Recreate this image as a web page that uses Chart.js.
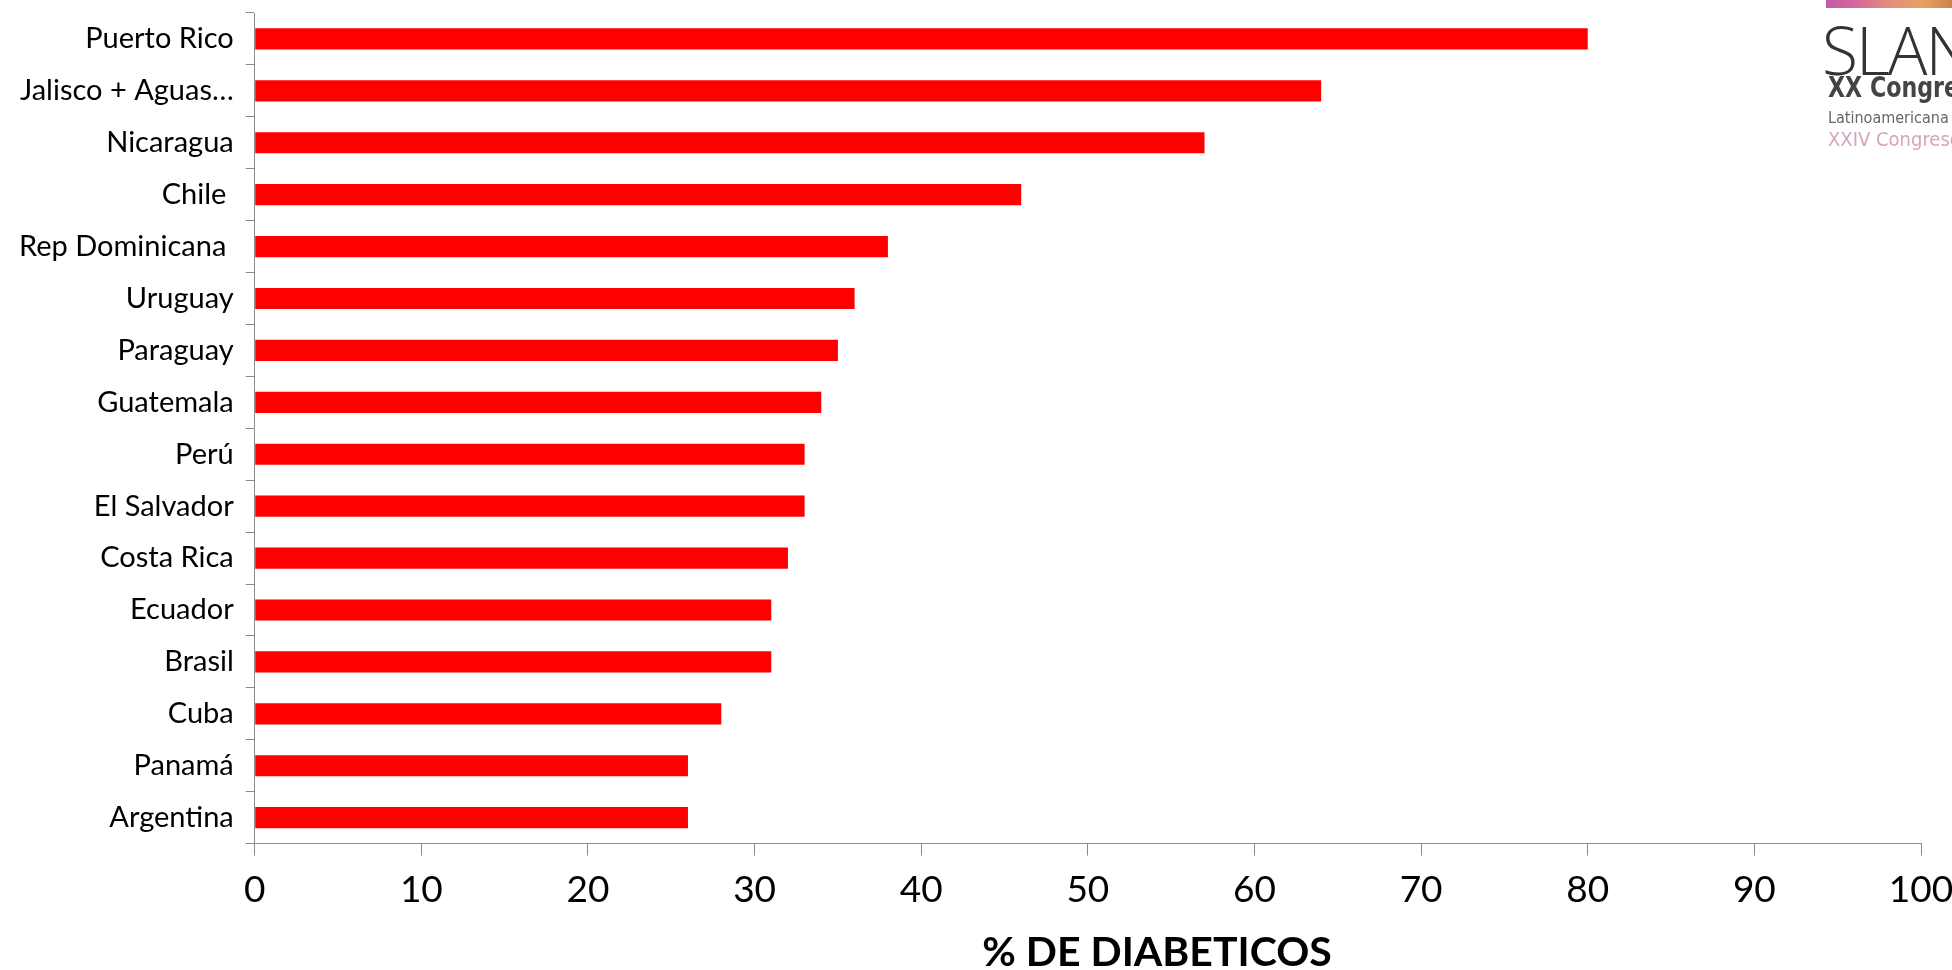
<!DOCTYPE html>
<html>
<head>
<meta charset="utf-8">
<script src="https://cdn.jsdelivr.net/npm/chart.js@4"></script>
<style>
    body { margin: 0; background: #fff; }
    #wrap { position: relative; width: 1952px; height: 970px; overflow: hidden; }
    .logo { position: absolute; white-space: nowrap; }
    #axisTitle { position: absolute; left: 857px; top: 926px; width: 600px; text-align: center;
        font: bold 41px Lato; line-height: 50px; color: #000; }
</style>
</head>
<body>
<div id="wrap">
    <canvas id="myChart" width="1952" height="970"></canvas>
    <div id="axisTitle">% DE DIABETICOS</div>
    <div class="logo" style="left:1826px;top:0px;width:130px;height:8px;background:linear-gradient(90deg,#c05aa8,#d9679a,#e2907a,#e8a060,#c97b4c);"></div>
    <div class="logo" style="left:1822px;top:4px;font:200 66px 'Open Sans';color:#333;letter-spacing:-2px;">SLAN</div>
    <div class="logo" style="left:1828px;top:70px;font:bold 29px 'DejaVu Sans Condensed';color:#444;transform:scaleX(0.85);transform-origin:left;">XX Congres</div>
    <div class="logo" style="left:1828px;top:108px;font:16px 'DejaVu Sans Condensed';color:#666;">Latinoamericana</div>
    <div class="logo" style="left:1828px;top:127px;font:20px 'DejaVu Sans Condensed';color:#d7a3bf;">XXIV Congreso</div>
</div>
<script>
const countries = ["Puerto Rico", "Jalisco + Aguas…", "Nicaragua", "Chile ", "Rep Dominicana ", "Uruguay",
    "Paraguay", "Guatemala", "Perú", "El Salvador", "Costa Rica", "Ecuador", "Brasil", "Cuba", "Panamá", "Argentina"];
const pctDiabeticos = [80, 64, 57, 46, 38, 36, 35, 34, 33, 33, 32, 31, 31, 28, 26, 26];
const xTicks = [0, 10, 20, 30, 40, 50, 60, 70, 80, 90, 100];

new Chart("myChart", {
    type: "bar",
    data: {
        labels: countries,
        datasets: [{
            data: pctDiabeticos,
            backgroundColor: "#ff0000",
            barPercentage: 0.8,
            categoryPercentage: 0.51
        }]
    },
    options: {
        indexAxis: "y",
        responsive: false,
        animation: false,
        layout: { padding: { top: 13, right: 31, left: 7, bottom: 46 } },
        plugins: { legend: { display: false }, tooltip: { enabled: false } },
        scales: {
            x: {
                min: xTicks[0],
                max: xTicks[xTicks.length - 1],
                afterBuildTicks: (axis) => { axis.ticks = xTicks.map(v => ({ value: v })); },
                afterFit: (axis) => { axis.paddingLeft = 0; axis.paddingRight = 0; },
                grid: { drawOnChartArea: false, tickLength: 12, color: "#8c8c8c" },
                border: { color: "#8c8c8c", width: 1 },
                ticks: { color: "#000", font: { family: "Lato", size: 37 }, padding: 12, maxRotation: 0 }
            },
            y: {
                afterFit: (axis) => { axis.paddingTop = 0; axis.paddingBottom = 0; },
                grid: { drawOnChartArea: false, tickLength: 9, color: "#8c8c8c" },
                border: { color: "#8c8c8c", width: 1 },
                ticks: { color: "#000", font: { family: "Lato", size: 29 }, padding: 12, autoSkip: false }
            }
        }
    }
});
</script>
</body>
</html>
